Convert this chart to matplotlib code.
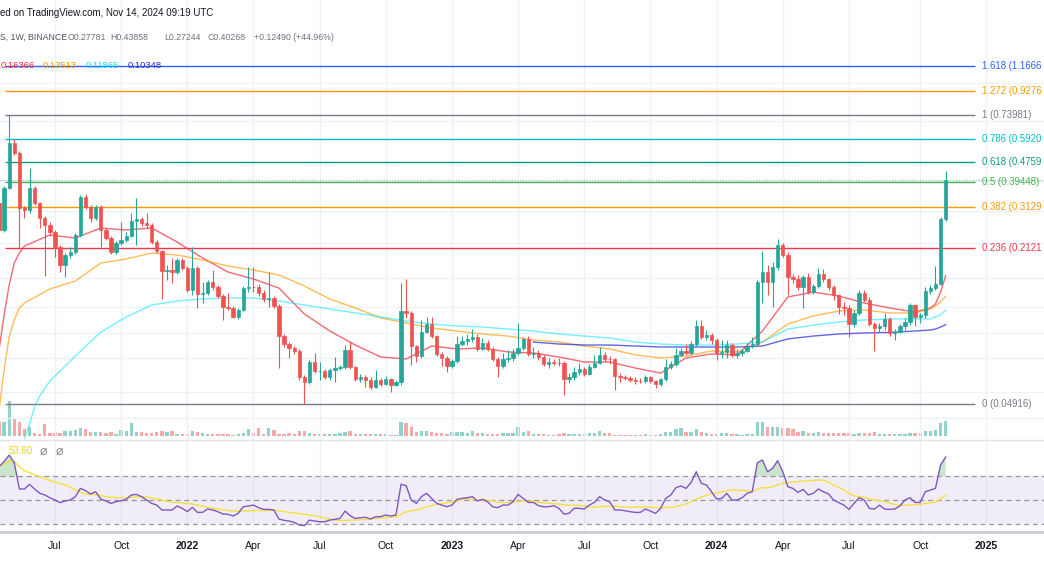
import matplotlib
matplotlib.use("Agg")
import matplotlib.pyplot as plt
import matplotlib.ticker as mticker
from matplotlib.lines import Line2D
import numpy as np
import pandas as pd

plt.rcParams['font.family'] = ['Liberation Sans', 'DejaVu Sans']

# ---- weekly candles (BINANCE, 1W), first bar week of 2021-04-19 ----
first_open = 0.324
close = [0.2515, 0.3730, 0.5688, 0.5178, 0.3092, 0.3034, 0.3730, 0.3240, 0.2814, 0.2635,
         0.2468, 0.2144, 0.1811, 0.1989, 0.2046, 0.2399, 0.3427, 0.3121, 0.2814, 0.3121,
         0.2515, 0.2333, 0.2046, 0.2226, 0.2289, 0.2377, 0.2736, 0.2788, 0.2685, 0.2635,
         0.2247, 0.2065, 0.1712, 0.1720, 0.1700, 0.1898, 0.1761, 0.1432, 0.1761, 0.1380,
         0.1393, 0.1544, 0.1473, 0.1354, 0.1221, 0.1210, 0.1112, 0.1187, 0.1459, 0.1473,
         0.1470, 0.1393, 0.1317, 0.1329, 0.1233, 0.0930, 0.0863, 0.0831, 0.0808, 0.0633,
         0.0604, 0.0729, 0.0670, 0.0672, 0.0633, 0.0676, 0.0689, 0.0695, 0.0816, 0.0695,
         0.0621, 0.0633, 0.0615, 0.0576, 0.0615, 0.0593, 0.0621, 0.0587, 0.0604, 0.1176,
         0.1154, 0.0847, 0.0771, 0.0966, 0.1041, 0.0930, 0.0786, 0.0757, 0.0702, 0.0736,
         0.0863, 0.0888, 0.0905, 0.0922, 0.0824, 0.0871, 0.0824, 0.0750, 0.0702, 0.0750,
         0.0757, 0.0793, 0.0831, 0.0905, 0.0786, 0.0793, 0.0764, 0.0715, 0.0729, 0.0725,
         0.0722, 0.0621, 0.0633, 0.0663, 0.0682, 0.0651, 0.0695, 0.0722, 0.0779, 0.0750,
         0.0748, 0.0639, 0.0633, 0.0630, 0.0615, 0.0610, 0.0608, 0.0633, 0.0610, 0.0593,
         0.0621, 0.0695, 0.0715, 0.0779, 0.0808, 0.0793, 0.0863, 0.1022, 0.0922, 0.0939,
         0.0896, 0.0793, 0.0801, 0.0855, 0.0779, 0.0793, 0.0808, 0.0847, 0.0863, 0.1544,
         0.1696, 0.1544, 0.1777, 0.2185, 0.1989, 0.1618, 0.1588, 0.1473, 0.1618, 0.1405,
         0.1487, 0.1664, 0.1588, 0.1473, 0.1367, 0.1221, 0.1210, 0.1041, 0.1155, 0.1393,
         0.1304, 0.1041, 0.1003, 0.1022, 0.1092, 0.0957, 0.0966, 0.1022, 0.1061, 0.1244,
         0.1112, 0.1133, 0.1419, 0.1459, 0.1515, 0.27781, 0.40268]
high = [0.340, 0.380, 0.7398, 0.5906, 0.527, 0.315, 0.4499, 0.380, 0.327, 0.286,
        0.271, 0.2515, 0.218, 0.203, 0.2144, 0.245, 0.3492, 0.3525, 0.318, 0.318,
        0.318, 0.2562, 0.2377, 0.227, 0.271, 0.2468, 0.2949, 0.3395, 0.284, 0.2949,
        0.2685, 0.2289, 0.2084, 0.181, 0.1933, 0.193, 0.193, 0.179, 0.2144, 0.179,
        0.1544, 0.157, 0.1728, 0.150, 0.138, 0.1393, 0.123, 0.121, 0.1487, 0.1777,
        0.1777, 0.1515, 0.143, 0.1696, 0.135, 0.1256, 0.0948, 0.088, 0.085, 0.082,
        0.0645, 0.074, 0.0793, 0.0729, 0.068, 0.069, 0.0764, 0.0708, 0.0855, 0.0888,
        0.0702, 0.0651, 0.0645, 0.0633, 0.0676, 0.0627, 0.0639, 0.0627, 0.0615, 0.1529,
        0.1588, 0.118, 0.0855, 0.1081, 0.1112, 0.1112, 0.094, 0.080, 0.0771, 0.075,
        0.093, 0.093, 0.0948, 0.0998, 0.0948, 0.0913, 0.0896, 0.0839, 0.0764, 0.0793,
        0.0816, 0.0824, 0.1051, 0.0922, 0.093, 0.0839, 0.0816, 0.078, 0.0757, 0.075,
        0.0757, 0.0736, 0.0657, 0.0695, 0.0722, 0.0695, 0.0715, 0.078, 0.0839, 0.080,
        0.0771, 0.0757, 0.0657, 0.0645, 0.0639, 0.0633, 0.0627, 0.0645, 0.0639, 0.0615,
        0.0627, 0.0750, 0.0736, 0.0831, 0.0831, 0.0863, 0.0888, 0.1081, 0.1081, 0.0984,
        0.0957, 0.0913, 0.0896, 0.0896, 0.0871, 0.0824, 0.0824, 0.0871, 0.0922, 0.1573,
        0.2065, 0.181, 0.186, 0.2311, 0.2226, 0.2046, 0.1664, 0.165, 0.165, 0.168,
        0.1515, 0.1761, 0.1745, 0.160, 0.150, 0.138, 0.128, 0.1244, 0.119, 0.143,
        0.143, 0.134, 0.106, 0.1051, 0.1155, 0.1112, 0.0998, 0.1041, 0.110, 0.1268,
        0.1256, 0.1155, 0.1473, 0.150, 0.1794, 0.284, 0.43858]
low = [0.247, 0.247, 0.370, 0.508, 0.2124, 0.2814, 0.2949, 0.318, 0.2562, 0.1633,
       0.2377, 0.1952, 0.1696, 0.1618, 0.193, 0.2008, 0.235, 0.306, 0.271, 0.277,
       0.2144, 0.229, 0.2008, 0.2008, 0.2185, 0.225, 0.235, 0.2185, 0.261, 0.2562,
       0.2205, 0.2027, 0.1317, 0.158, 0.1530, 0.1664, 0.173, 0.1407, 0.1367, 0.1210,
       0.1268, 0.1367, 0.143, 0.1328, 0.1081, 0.119, 0.110, 0.109, 0.118, 0.1407,
       0.1407, 0.135, 0.128, 0.1221, 0.121, 0.0689, 0.0839, 0.0757, 0.0786, 0.0615,
       0.04916, 0.0593, 0.0657, 0.0615, 0.062, 0.0615, 0.0604, 0.0676, 0.068, 0.068,
       0.061, 0.0604, 0.0576, 0.0565, 0.057, 0.0582, 0.0587, 0.0550, 0.0582, 0.0587,
       0.110, 0.0708, 0.0729, 0.0757, 0.0957, 0.091, 0.0771, 0.0702, 0.0663, 0.0689,
       0.0722, 0.0847, 0.0855, 0.088, 0.0808, 0.0816, 0.0808, 0.0736, 0.0633, 0.069,
       0.0729, 0.0736, 0.078, 0.0816, 0.0771, 0.0757, 0.074, 0.0702, 0.069, 0.0708,
       0.0702, 0.0535, 0.0598, 0.0615, 0.0645, 0.0639, 0.0645, 0.069, 0.0715, 0.0729,
       0.0715, 0.0561, 0.0604, 0.0615, 0.0604, 0.0593, 0.0598, 0.0598, 0.0598, 0.0570,
       0.0582, 0.061, 0.0682, 0.0702, 0.0771, 0.078, 0.078, 0.0847, 0.0905, 0.0896,
       0.0863, 0.074, 0.0757, 0.0757, 0.0764, 0.0757, 0.0771, 0.080, 0.0831, 0.0847,
       0.1268, 0.1367, 0.1221, 0.173, 0.1952, 0.1367, 0.153, 0.143, 0.1210, 0.138,
       0.138, 0.146, 0.154, 0.143, 0.130, 0.1144, 0.113, 0.0922, 0.101, 0.113,
       0.128, 0.102, 0.0808, 0.0966, 0.0984, 0.093, 0.0896, 0.0957, 0.0984, 0.103,
       0.102, 0.1051, 0.110, 0.138, 0.143, 0.150, 0.27244]
volume = [143, 143, 350, 183, 143, 67, 93, 33, 20, 117,
          33, 33, 33, 50, 50, 57, 80, 70, 37, 43,
          37, 27, 37, 17, 60, 50, 133, 40, 40, 27,
          33, 37, 50, 37, 50, 17, 17, 20, 50, 37,
          27, 20, 20, 20, 20, 17, 10, 23, 33, 70,
          30, 77, 23, 77, 60, 20, 20, 27, 23, 50,
          50, 30, 17, 17, 20, 23, 23, 27, 43, 50,
          17, 17, 17, 17, 23, 17, 17, 10, 10, 137,
          127, 93, 43, 53, 53, 37, 33, 30, 17, 37,
          43, 37, 33, 50, 30, 33, 20, 20, 23, 27,
          27, 27, 93, 37, 53, 20, 20, 17, 13, 13,
          17, 33, 20, 20, 20, 20, 27, 27, 50, 27,
          27, 13, 13, 13, 13, 13, 10, 17, 10, 10,
          17, 37, 43, 67, 77, 37, 37, 70, 43, 27,
          23, 23, 30, 27, 20, 17, 13, 20, 23, 137,
          143, 87, 87, 87, 77, 83, 67, 43, 50, 33,
          33, 43, 33, 27, 27, 27, 27, 33, 20, 27,
          27, 33, 43, 20, 20, 17, 17, 17, 17, 33,
          27, 27, 53, 53, 60, 127, 150]
rsi = [77.8, 82, 87.5, 81, 59.2, 59.2, 63, 59.2, 55.6, 54.2,
       51.9, 50, 47.8, 49.2, 50, 52.8, 59.7, 57.8, 55, 56.9,
       50.8, 49.2, 47.2, 48.6, 49.4, 50.6, 54.2, 54.7, 52.8, 50,
       47.2, 45.8, 41.7, 41.7, 41.7, 45, 43.1, 40.3, 43.9, 39.7,
       39.7, 42.5, 41.7, 40.3, 38.3, 38.1, 36.7, 38.9, 44.4, 45,
       45.8, 43.6, 42.2, 42.2, 41.7, 34.2, 33.1, 32.5, 31.4, 29.2,
       28.6, 33.3, 32.5, 31.9, 31.9, 33.3, 33.9, 34.7, 40.8, 36.9,
       34.7, 35.3, 35.6, 34.2, 36.1, 36.1, 37.5, 36.7, 37.5, 63.1,
       61.9, 50, 47.2, 52.8, 55.6, 51.4, 47.2, 45.8, 44.4, 45.8,
       50.6, 51.4, 51.9, 52.8, 49.2, 50.6, 48.6, 44.4, 43.6, 45.8,
       45.8, 48.6, 54.7, 51.4, 48, 48, 45.3, 44.4, 44.4, 45.3,
       43.1, 38.3, 38.9, 43.1, 43.1, 42.5, 45.8, 48, 52.8, 50,
       48.6, 41.7, 41.7, 41.1, 40.3, 39.7, 39.7, 42.5, 40.8, 38.9,
       43.1, 51.4, 54.2, 60.3, 61.7, 59.7, 64.7, 73.6, 63.9, 62.5,
       56.9, 50.8, 51.4, 55.6, 50, 50, 51.9, 55.6, 56.9, 81.1,
       83.3, 73.6, 76.4, 82.8, 73.6, 61.1, 59.7, 56.4, 58.9, 54.2,
       55.6, 59.2, 56.9, 55, 50, 47.8, 45.8, 42.2, 47.2, 51.9,
       50, 43.1, 42.5, 45.8, 42.5, 42.2, 42.5, 45, 50, 51.9,
       48, 48, 56.9, 58.3, 59.7, 79.2, 85.8]

# moving averages (bar number -> value)
ma_bars = [0, 1, 2, 3, 4, 5] + list(range(10, 181, 5)) + [183, 184, 185, 186]
ma_red = [0.0816, 0.1133, 0.1501, 0.1845, 0.2027, 0.2164,
          0.2399, 0.2333, 0.2562, 0.2515, 0.2562, 0.2247, 0.1934, 0.1696, 0.1588, 0.1459,
          0.1144, 0.0975, 0.0855, 0.0764, 0.0750, 0.0847, 0.0824, 0.0831, 0.0801, 0.0793,
          0.0764, 0.0729, 0.0729, 0.0689, 0.0657, 0.0757, 0.0786, 0.0779, 0.0975, 0.1342,
          0.1405, 0.1354, 0.1268, 0.1210, 0.1165,
          0.1210, 0.1256, 0.1405, 0.16366]
ma_orange = [0.0464, 0.0676, 0.0922, 0.1081, 0.1210, 0.1268,
             0.1446, 0.1558, 0.1845, 0.1916, 0.2027, 0.1989, 0.1898, 0.1794, 0.1728, 0.1649,
             0.1487, 0.1317, 0.1210, 0.1102, 0.1051, 0.1003, 0.0975, 0.0948, 0.0930, 0.0896,
             0.0879, 0.0847, 0.0824, 0.0779, 0.0757, 0.0771, 0.0808, 0.0801, 0.0879, 0.1041,
             0.1123, 0.1176, 0.1187, 0.1155, 0.1155,
             0.1199, 0.1233, 0.1280, 0.13513]
cyan_bars = [5, 6, 7, 8] + list(range(10, 181, 5)) + [183, 184, 185, 186]
ma_cyan = [0.0357, 0.0408, 0.0478, 0.0530,
           0.0610, 0.0771, 0.0966, 0.1112, 0.1244, 0.1292, 0.1317, 0.1329, 0.1329, 0.1292,
           0.1244, 0.1199, 0.1155, 0.1112, 0.1071, 0.1041, 0.1022, 0.1012, 0.0993, 0.0975,
           0.0948, 0.0930, 0.0913, 0.0879, 0.0863, 0.0855, 0.0855, 0.0863, 0.0879, 0.0993,
           0.1031, 0.1061, 0.1081, 0.1092, 0.1092,
           0.1092, 0.1112, 0.1133, 0.11865]
blue_bars = list(range(105, 181, 5)) + [183, 184, 185, 186]
ma_blue = [0.0879, 0.0863, 0.0855, 0.0855, 0.0847, 0.0839, 0.0839, 0.0839, 0.0839, 0.0847,
           0.0905, 0.0930, 0.0948, 0.0957, 0.0962, 0.0975,
           0.0984, 0.0993, 0.1012, 0.10348]

fib_low, fib_high = 0.04916, 0.73981
fib_levels = [0, 0.236, 0.382, 0.5, 0.618, 0.786, 1, 1.272, 1.618]
fib_colors = ['#787b86', '#f23645', '#ff9800', '#4caf50', '#089981',
              '#00bcd4', '#787b86', '#ff9800', '#2962ff']

grid_prices = [0.0433, 0.055, 0.0757, 0.0957, 0.122, 0.16, 0.222, 0.30, 0.40, 0.70, 1.0]
tick_labels = ['Jul', 'Oct', '2022', 'Apr', 'Jul', 'Oct', '2023', 'Apr', 'Jul', 'Oct',
               '2024', 'Apr', 'Jul', 'Oct', '2025']

dates = pd.date_range('2021-04-19', periods=len(close), freq='7D')
opens = [first_open] + close[:-1]
tick_dates = pd.date_range('2021-07-01', '2025-01-31', freq='WOM-1MON')
tick_dates = [d for d in tick_dates if d.month in (1, 4, 7, 10)]

W, H = 1044, 587
fig = plt.figure(figsize=(W / 100, H / 100), dpi=100)
fig.patch.set_facecolor('white')


def rect(top, bottom):
    return [0, 1 - bottom / H, 1, (bottom - top) / H]


axv = fig.add_axes(rect(396, 436))
ax = fig.add_axes(rect(0, 440), sharex=axv)
axr = fig.add_axes(rect(440, 531), sharex=axv)
ax.patch.set_visible(False)
axv.patch.set_visible(False)

xlim = (pd.Timestamp('2021-04-20 09:00'), pd.Timestamp('2025-03-26 07:00'))
grid_c = '#eef1f6'

# ---- price pane ----
up = np.array(close) >= np.array(opens)
cols = np.where(up, '#26a69a', '#ef5350')
ax.vlines(dates, low, high, colors=cols, lw=0.8, zorder=3)
body_lo = np.minimum(opens, close)
body_h = np.abs(np.array(close) - np.array(opens))
ax.bar(dates, body_h, bottom=body_lo, width=4.6, color=cols, edgecolor=cols,
       linewidth=0.5, zorder=4)

ax.plot(dates[ma_bars], ma_red, color='#f23645', alpha=0.75, lw=1, zorder=2)
ax.plot(dates[ma_bars], ma_orange, color='#ff9800', alpha=0.65, lw=1, zorder=2)
ax.plot(dates[cyan_bars], ma_cyan, color='#00e5ff', alpha=0.55, lw=1, zorder=2)
ax.plot(dates[blue_bars], ma_blue, color='#2424e0', alpha=0.7, lw=1, zorder=2)

fib_x0, fib_x1 = pd.Timestamp('2021-04-27'), pd.Timestamp('2024-12-21')
for lvl, c in zip(fib_levels, fib_colors):
    price = fib_low + lvl * (fib_high - fib_low)
    ax.hlines(price, fib_x0, fib_x1, color=c, lw=1, zorder=1)
    # the screenshot's right edge hides the end of the longer labels
    label = f'{lvl:g} ({price:.5f})'[:13]
    ax.text(pd.Timestamp('2024-12-31'), price, label, color=c,
            fontsize=6.9, va='center', ha='left')

ax.axhline(close[-1], color='#26a69a', lw=0.8, ls=(0, (1, 1.5)), alpha=0.6, zorder=1)

ax.set_yscale('log')
ax.set_ylim(0.03507, 2.1758)
ax.set_yticks(grid_prices)
ax.yaxis.set_minor_locator(mticker.NullLocator())
ax.grid(True, color=grid_c, lw=1)
ax.set_axisbelow(True)

# ---- volume overlay ----
vcols = np.where(up, '#92d2cc', '#f7a9a7')
axv.bar(dates, volume, width=4.6, color=vcols, linewidth=0)
axv.set_ylim(0, 400)

# ---- RSI pane ----
rsi_s = pd.Series(rsi, index=dates)
rsi_ma = rsi_s.rolling(14, min_periods=1).mean()
axr.axhspan(30, 70, color='#7e57c2', alpha=0.1, lw=0)
for lv in (70, 50, 30):
    axr.axhline(lv, color='#9598a1', lw=0.9, ls=(0, (4, 3)))
axr.fill_between(dates, 70, rsi_s, where=rsi_s > 70, interpolate=True,
                 color='#4caf50', alpha=0.3, lw=0)
axr.fill_between(dates, 30, rsi_s, where=rsi_s < 30, interpolate=True,
                 color='#f23645', alpha=0.3, lw=0)
axr.plot(dates, rsi_ma, color='#f7e03c', lw=1)
axr.plot(dates, rsi_s, color='#7e57c2', lw=1)
axr.set_ylim(24.2, 100)
axr.set_yticks([])
axr.grid(True, axis='x', color=grid_c, lw=1)
axr.set_axisbelow(True)

axr.set_xlim(*xlim)
axr.set_xticks(tick_dates)
axr.set_xticklabels(tick_labels)
axr.tick_params(axis='x', length=0, pad=7, labelsize=7.6, labelcolor='#131722')
for t in axr.get_xticklabels():
    if t.get_text().isdigit():
        t.set_fontweight('bold')

for a in (ax, axv, axr):
    for s in a.spines.values():
        s.set_visible(False)
for a in (ax, axv):
    a.tick_params(axis='both', length=0, labelbottom=False, labelleft=False)
axv.set_yticks([])
ax.tick_params(axis='x', which='both', length=0)

fig.add_artist(Line2D([0, 1], [1 - 440 / H] * 2, color='#e0e3eb', lw=1))
fig.add_artist(Line2D([0, 1], [1 - 531.5 / H] * 2, color='#c9ccd4', lw=2))


# ---- header texts ----
def px(x, y):
    return x / W, 1 - y / H


fig.text(*px(0, 13), 'ed on TradingView.com, Nov 14, 2024 09:19 UTC',
         fontsize=7.0, color='#131722', va='center')
fs = 6.3
fig.text(*px(0, 37), 'S, 1W, BINANCE', fontsize=fs, color='#50535e', va='center')
for x, token in [(68, 'O0.27781'), (110, 'H0.43858'), (164, 'L0.27244'),
                 (207, 'C0.40268'), (254, '+0.12490 (+44.96%)')]:
    fig.text(*px(x, 37), token, fontsize=fs, color='#6f727d', va='center')

for x, val, c in [(1, '0.16366', '#f7263c'), (43, '0.13513', '#ff9800'),
                  (86, '0.11865', '#1ee0f0'), (128, '0.10348', '#2a2ad5')]:
    fig.text(*px(x, 66), val, fontsize=6.8, color=c, va='center')

fig.text(*px(9, 451), '53.60', fontsize=7.0, color='#f2d21b', va='center')
fig.text(*px(40, 451), '\u2300', fontsize=9, color='#787b86', va='center',
         family='DejaVu Sans')
fig.text(*px(56, 451), '\u2300', fontsize=9, color='#787b86', va='center',
         family='DejaVu Sans')

fig.savefig('out.png', dpi=100)
